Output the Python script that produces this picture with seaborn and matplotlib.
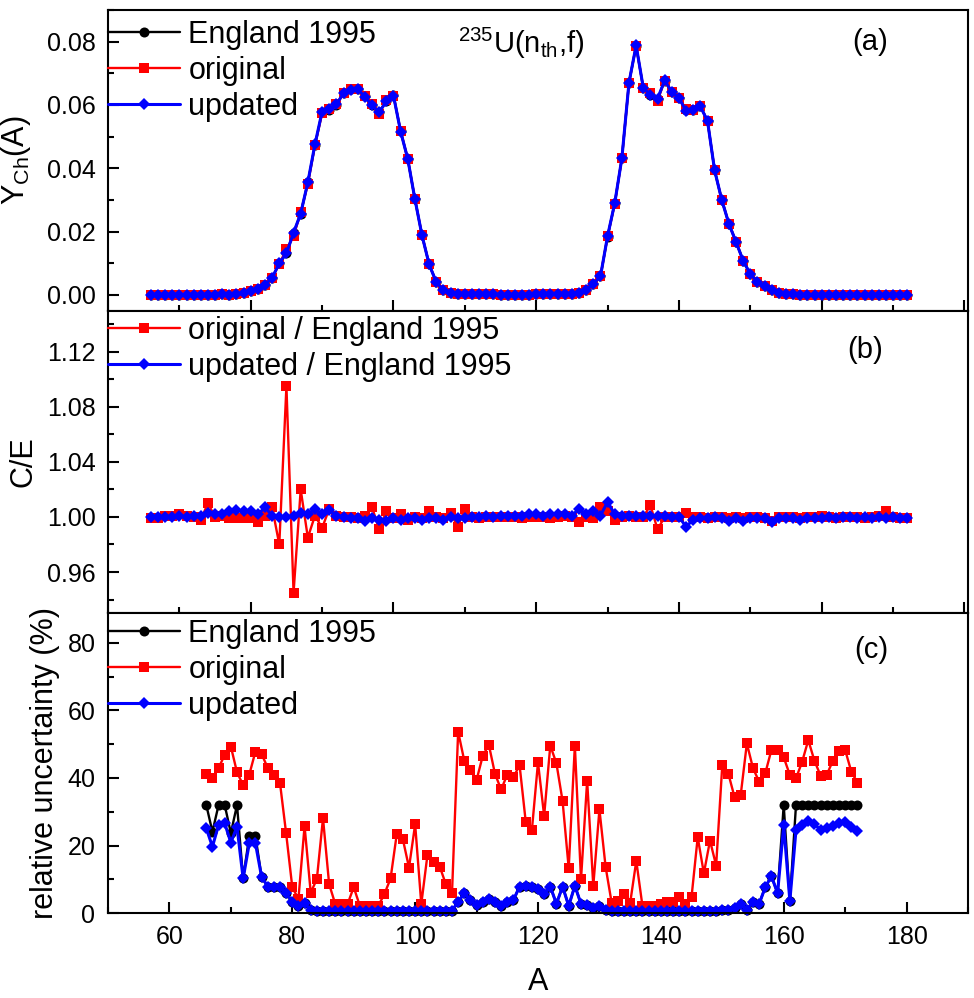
import numpy as np
import pandas as pd
import matplotlib
matplotlib.use("Agg")
import matplotlib.pyplot as plt
from matplotlib.ticker import MultipleLocator, FixedLocator, FormatStrFormatter
import seaborn as sns

# ---------------- data ----------------
mass_A = list(range(66, 173))  # A = 66 ... 172

# chain yields, England 1995 (fraction)
yield_england = [
    0.0000001, 0.0000002, 0.0000005, 0.0000010, 0.0000020, 0.0000050, 0.0000080, 0.0000110, 0.0000350, 0.0001090,  # 66-75
    0.0002870, 0.0000830, 0.0002110, 0.0004450, 0.00125, 0.0020, 0.0032, 0.00536, 0.0100, 0.0131,                # 76-85
    0.0196, 0.0256, 0.0355, 0.0473, 0.0578, 0.0583, 0.0601, 0.0637, 0.0649, 0.0650,                              # 86-95
    0.0628, 0.0599, 0.0578, 0.0613, 0.0630, 0.0517, 0.0430, 0.0303, 0.0188, 0.0096,                              # 96-105
    0.0040, 0.0014, 0.00054, 0.00031, 0.00025, 0.00018, 0.00013, 0.00014, 0.00012, 0.00011,                      # 106-115
    0.00011, 0.00011, 0.00011, 0.00011, 0.00012, 0.00013, 0.00014, 0.00016, 0.00027, 0.00034,                    # 116-125
    0.00059, 0.00157, 0.0035, 0.0058, 0.0184, 0.0289, 0.0431, 0.0670, 0.0787, 0.0654,                            # 126-135
    0.0631, 0.0619, 0.0677, 0.0641, 0.0622, 0.0585, 0.0584, 0.0596, 0.0550, 0.0393,                              # 136-145
    0.0300, 0.0225, 0.0167, 0.0108, 0.00653, 0.00419, 0.00267, 0.0016, 0.00074, 0.00032,                         # 146-155
    0.00013, 0.000063, 0.000033, 0.00001, 0.000003, 0.0000012, 0.0000005, 0.0000003, 0.0000002, 0.0000001,       # 156-165
    0.0000001, 0.0000001, 0.0000001, 0.0000001, 0.0000001, 0.0000001, 0.0000001,                                 # 166-172
]

# C/E ratios
ratio_original = [
    0.999, 0.999, 1.001, 1.001, 1.002, 1.001, 1.000, 0.998, 1.010, 1.000,
    1.001, 0.999, 0.999, 0.999, 0.999, 0.996, 1.001, 1.007, 0.980, 1.095,
    0.945, 1.020, 0.985, 1.001, 0.992, 1.006, 1.001, 1.000, 1.000, 0.999,
    1.001, 1.007, 0.991, 1.004, 0.999, 1.002, 0.998, 1.000, 0.999, 1.004,
    1.000, 0.999, 1.003, 0.993, 1.006, 1.000, 0.999, 1.000, 1.000, 1.000,
    1.000, 1.000, 0.999, 1.000, 1.000, 1.000, 0.999, 1.000, 1.001, 1.000,
    0.996, 1.000, 0.999, 1.007, 1.004, 0.998, 1.000, 1.001, 1.000, 1.000,
    1.0085, 0.991, 1.000, 1.000, 1.000, 1.003, 1.000, 1.000, 0.999, 1.000,
    1.000, 0.999, 1.000, 0.999, 1.000, 1.000, 0.999, 0.997, 1.000, 1.000,
    1.000, 0.999, 1.000, 1.000, 1.001, 1.000, 0.999, 1.000, 1.000, 1.000,
    0.999, 1.000, 1.001, 1.004, 1.000, 0.999, 0.999,
]
ratio_updated = [
    1.000, 1.000, 1.000, 1.000, 1.001, 1.000, 1.001, 1.001, 1.003, 1.002,
    1.002, 1.004, 1.005, 1.004, 1.004, 1.002, 1.007, 1.001, 1.000, 1.000,
    1.001, 1.003, 1.002, 1.006, 1.002, 1.005, 1.001, 1.000, 0.999, 0.999,
    0.997, 0.999, 0.998, 0.997, 0.999, 0.998, 0.999, 0.999, 0.998, 0.999,
    0.999, 0.998, 1.000, 0.999, 0.999, 1.000, 1.000, 1.001, 1.000, 1.001,
    1.001, 1.001, 1.001, 1.002, 1.002, 1.001, 1.002, 1.002, 1.002, 1.001,
    1.006, 1.002, 1.004, 1.001, 1.011, 1.002, 1.001, 1.001, 1.001, 1.001,
    1.001, 1.001, 1.001, 1.000, 1.000, 0.993, 0.998, 0.999, 0.999, 1.000,
    0.999, 0.997, 0.999, 0.997, 0.999, 0.999, 0.999, 0.996, 0.999, 0.999,
    0.999, 0.998, 0.999, 0.999, 0.999, 1.000, 0.999, 1.000, 1.000, 0.999,
    1.000, 0.999, 1.000, 0.999, 1.000, 0.999, 0.999,
]

# relative uncertainties (%)
unc_england = [
    32.0, 24.1, 32.0, 32.0, 23.7, 32.0, 10.3, 22.8, 22.8, 10.8,
    7.9, 7.9, 7.9, 5.9, 3.4, 2.2, 3.0, 1.0, 0.8, 0.8,
    0.8, 0.7, 0.8, 0.8, 0.7, 0.8, 0.8, 0.7, 0.8, 0.8,
    0.8, 0.8, 0.7, 0.8, 0.8, 0.7, 0.8, 0.8, 0.8, 0.8,
    0.8, 3.4, 5.9, 3.9, 2.5, 3.4, 4.1, 3.4, 2.2, 3.4,
    3.9, 7.9, 8.0, 7.8, 7.2, 5.8, 7.9, 2.8, 7.9, 2.2,
    8.1, 2.8, 2.5, 1.5, 2.2, 1.0, 0.8, 0.8, 0.8, 0.8,
    0.8, 0.8, 0.8, 0.8, 0.8, 0.8, 0.8, 0.8, 0.8, 0.8,
    0.8, 0.8, 0.8, 0.8, 1.0, 1.0, 1.5, 2.8, 1.0, 3.4,
    2.8, 7.7, 11.0, 5.9, 32.0, 3.7, 32.0, 32.0, 32.0, 32.0,
    32.0, 32.0, 32.0, 32.0, 32.0, 32.0, 32.0,
]
unc_original = [
    41.2, 40.0, 42.9, 46.9, 49.3, 41.7, 37.9, 41.0, 47.8, 47.1,
    43.0, 40.9, 38.5, 23.6, 7.7, 4.2, 25.8, 6.1, 10.1, 28.1,
    8.6, 2.7, 2.7, 2.7, 7.7, 2.2, 2.2, 2.2, 2.2, 5.7,
    10.3, 23.3, 21.9, 13.5, 26.3, 2.7, 17.2, 15.3, 13.8, 8.6,
    5.9, 53.7, 45.1, 42.4, 39.4, 46.5, 49.8, 41.2, 36.6, 41.0,
    40.2, 43.8, 27.1, 24.5, 44.6, 28.8, 49.6, 44.3, 33.2, 13.3,
    49.6, 10.0, 39.2, 8.1, 30.7, 13.8, 3.0, 3.7, 5.7, 3.0,
    15.5, 2.2, 2.2, 2.2, 2.8, 3.4, 3.4, 4.7, 2.8, 4.9,
    22.5, 11.8, 21.5, 14.1, 43.8, 41.2, 34.3, 35.0, 50.2, 42.9,
    38.9, 41.4, 48.3, 48.3, 46.1, 40.9, 39.9, 44.8, 51.2, 45.1,
    40.7, 40.9, 45.1, 48.1, 48.3, 41.9, 38.6,
]
unc_updated = [
    25.1, 19.7, 26.1, 26.6, 20.9, 25.6, 10.3, 20.7, 20.7, 10.8,
    7.9, 7.9, 7.9, 5.9, 3.4, 2.2, 3.0, 1.0, 0.8, 0.8,
    0.8, 0.7, 0.8, 0.8, 0.7, 0.8, 0.8, 0.7, 0.8, 0.8,
    0.8, 0.8, 0.7, 0.8, 0.8, 0.7, 0.8, 0.8, 0.8, 0.8,
    0.8, 3.4, 5.9, 3.9, 2.5, 3.4, 4.1, 3.4, 2.2, 3.4,
    3.9, 7.9, 8.0, 7.8, 7.2, 5.8, 7.9, 2.8, 7.9, 2.2,
    8.1, 2.8, 2.5, 1.5, 2.2, 1.0, 0.8, 0.8, 0.8, 0.8,
    0.8, 0.8, 0.8, 0.8, 0.8, 0.8, 0.8, 0.8, 0.8, 0.8,
    0.8, 0.8, 0.8, 0.8, 1.0, 1.0, 1.5, 2.8, 1.0, 3.4,
    2.8, 7.7, 11.0, 5.9, 26.0, 3.7, 24.6, 26.1, 27.3, 26.4,
    24.6, 25.1, 25.8, 26.8, 27.1, 25.6, 24.4,
]

# ---------------- style ----------------
sns.set_style("white")
plt.rcParams["font.family"] = ["Liberation Sans", "DejaVu Sans"]
plt.rcParams["mathtext.fontset"] = "custom"
plt.rcParams["mathtext.rm"] = "Liberation Sans"
plt.rcParams["mathtext.it"] = "Liberation Sans:italic"
plt.rcParams["mathtext.bf"] = "Liberation Sans:bold"
plt.rcParams["axes.linewidth"] = 1.5
plt.rcParams["axes.edgecolor"] = "black"
plt.rcParams["text.color"] = "black"
plt.rcParams["axes.labelcolor"] = "black"
plt.rcParams["xtick.color"] = "black"
plt.rcParams["ytick.color"] = "black"

df = pd.DataFrame({
    "A": mass_A,
    "england": yield_england,
    "original": np.array(yield_england) * np.array(ratio_original),
    "updated": np.array(yield_england) * np.array(ratio_updated),
    "r_orig": ratio_original,
    "r_upd": ratio_updated,
    "u_eng": unc_england,
    "u_orig": unc_original,
    "u_upd": unc_updated,
})

BLACK, RED, BLUE = "#000000", "#FF0000", "#0000FF"
sty_eng = dict(color=BLACK, marker="o", markersize=7.2, markeredgewidth=0, linewidth=1.7)
sty_org = dict(color=RED, marker="s", markersize=7.0, markeredgewidth=0, linewidth=1.7)
sty_upd = dict(color=BLUE, marker="D", markersize=6.6, markeredgewidth=0, linewidth=2.2)

fig = plt.figure(figsize=(9.74, 9.98), dpi=100)
left, width = 108 / 974, (968 - 108) / 974
ax_a = fig.add_axes([left, 0.6887, width, 0.3013])
ax_b = fig.add_axes([left, 0.3855, width, 0.3032])
ax_c = fig.add_axes([left, 0.0849, width, 0.3006])

TICK_FS = 18
LAB_FS = 22
LEG_FS = 22


def style_axis(ax):
    for s in ax.spines.values():
        s.set_linewidth(1.5)
        s.set_color("black")
    ax.tick_params(which="both", direction="in", top=False, right=False,
                   bottom=True, left=True,
                   labelsize=TICK_FS, width=1.5, colors="black")
    ax.tick_params(which="major", length=8)
    ax.tick_params(which="minor", length=4.5)
    ax.tick_params(axis="y", pad=9)
    ax.tick_params(axis="x", pad=8.5)


def legend(ax, y_anchor):
    ax.legend(loc="upper left", bbox_to_anchor=(0.0, y_anchor), frameon=False,
              fontsize=LEG_FS, borderaxespad=0, borderpad=0, handlelength=2.35,
              handletextpad=0.28, labelspacing=0.2, numpoints=1)


# ---- panel (a)
sns.lineplot(data=df, x="A", y="england", ax=ax_a, label="England 1995", errorbar=None, **sty_eng)
sns.lineplot(data=df, x="A", y="original", ax=ax_a, label="original", errorbar=None, **sty_org)
sns.lineplot(data=df, x="A", y="updated", ax=ax_a, label="updated", errorbar=None, **sty_upd)
ax_a.set_xlim(60, 180.5)
ax_a.set_ylim(-0.005, 0.09)
ax_a.xaxis.set_major_locator(MultipleLocator(20))
ax_a.xaxis.set_minor_locator(MultipleLocator(10))
ax_a.yaxis.set_major_locator(MultipleLocator(0.02))
ax_a.yaxis.set_minor_locator(MultipleLocator(0.01))
ax_a.yaxis.set_major_formatter(FormatStrFormatter("%.2f"))
ax_a.set_xlabel("")
ax_a.set_ylabel(r"Y$_{\mathrm{Ch}}$(A)", fontsize=LAB_FS)
ax_a.yaxis.set_label_coords(-0.087, 0.5)
style_axis(ax_a)
ax_a.tick_params(axis="x", labelbottom=False)
legend(ax_a, 0.968)
ax_a.text(0.407, 0.857, r"$^{235}$U(n$_{\mathrm{th}}$,f)", transform=ax_a.transAxes,
          fontsize=21, ha="left", va="baseline")
ax_a.text(0.886, 0.894, "(a)", transform=ax_a.transAxes, fontsize=21, ha="center", va="center")

# ---- panel (b)
sns.lineplot(data=df, x="A", y="r_orig", ax=ax_b, label="original / England 1995", errorbar=None, **sty_org)
sns.lineplot(data=df, x="A", y="r_upd", ax=ax_b, label="updated / England 1995", errorbar=None, **sty_upd)
ax_b.set_xlim(60, 180.5)
ax_b.set_ylim(0.93, 1.15)
ax_b.xaxis.set_major_locator(MultipleLocator(20))
ax_b.xaxis.set_minor_locator(MultipleLocator(10))
ax_b.yaxis.set_major_locator(FixedLocator([0.96, 1.00, 1.04, 1.08, 1.12]))
ax_b.yaxis.set_minor_locator(FixedLocator([0.94, 0.98, 1.02, 1.06, 1.10, 1.14]))
ax_b.yaxis.set_major_formatter(FormatStrFormatter("%.2f"))
ax_b.set_xlabel("")
ax_b.set_ylabel("C/E", fontsize=LAB_FS)
ax_b.yaxis.set_label_coords(-0.081, 0.5)
style_axis(ax_b)
ax_b.tick_params(axis="x", labelbottom=False)
legend(ax_b, 0.983)
ax_b.text(0.880, 0.870, "(b)", transform=ax_b.transAxes, fontsize=21, ha="center", va="center")

# ---- panel (c)
sns.lineplot(data=df, x="A", y="u_eng", ax=ax_c, label="England 1995", errorbar=None, **sty_eng)
sns.lineplot(data=df, x="A", y="u_orig", ax=ax_c, label="original", errorbar=None, **sty_org)
sns.lineplot(data=df, x="A", y="u_upd", ax=ax_c, label="updated", errorbar=None, **sty_upd)
ax_c.set_xlim(50, 190)
ax_c.set_ylim(0, 88.7)
ax_c.xaxis.set_major_locator(MultipleLocator(20))
ax_c.xaxis.set_minor_locator(MultipleLocator(10))
ax_c.yaxis.set_major_locator(MultipleLocator(20))
ax_c.yaxis.set_minor_locator(MultipleLocator(10))
ax_c.set_xlabel("A", fontsize=LAB_FS)
ax_c.xaxis.set_label_coords(0.5, -0.178)
ax_c.set_ylabel("relative uncertainty (%)", fontsize=LAB_FS)
ax_c.yaxis.set_label_coords(-0.0558, 0.5)
style_axis(ax_c)
legend(ax_c, 0.982)
ax_c.text(0.888, 0.878, "(c)", transform=ax_c.transAxes, fontsize=21, ha="center", va="center")

for ax in (ax_a, ax_b, ax_c):
    for ln in ax.lines:
        ln.set_clip_on(False)

fig.savefig("out.png", dpi=100)
